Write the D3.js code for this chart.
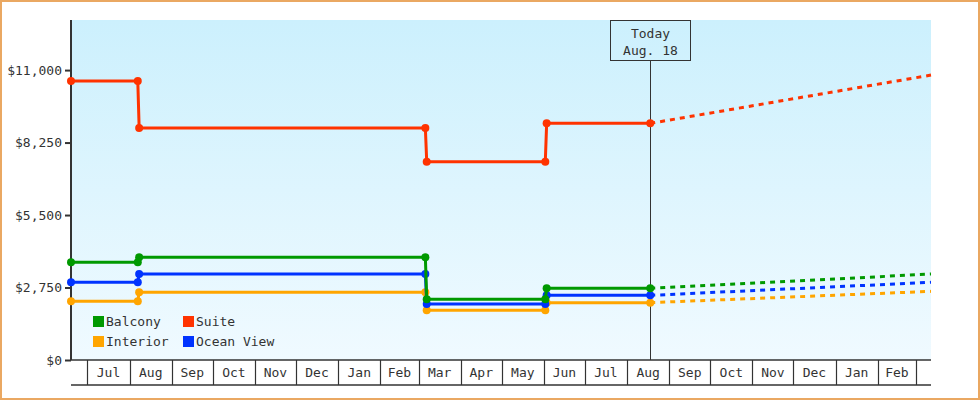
<!DOCTYPE html>
<html lang="en">
<head>
    <meta charset="UTF-8">
    <title>Cabin Price History</title>
    <script src="https://d3js.org/d3.v7.min.js"></script>
    <style>
        body {
            margin: 0;
            background: #fff;
        }

        svg {
            display: block;
            font-family: "DejaVu Sans Mono", monospace;
            font-size: 13px;
        }

        .tick text, .legend text, .month-label, .today-label {
            fill: #333;
        }
    </style>
</head>
<body>
    <svg id="chart" width="980" height="400"></svg>
    <script>
        // Price data
        const pastDates = ["2017-06-19", "2017-08-07", "2017-08-08", "2018-03-06", "2018-03-07", "2018-06-02", "2018-06-03", "2018-08-18"];
        const balcony   = [3706, 3706, 3895, 3895, 2302, 2302, 2719, 2719];
        const suite     = [10583, 10583, 8800, 8800, 7522, 7522, 8978, 8978];
        const oceanView = [2947, 2947, 3262, 3262, 2124, 2124, 2453, 2453];
        const interior  = [2226, 2226, 2567, 2567, 1884, 1884, 2175, 2175];

        // Forecast (dashed)
        const forecastDates     = ["2018-08-18", "2019-03-12"];
        const balconyForecast   = [2719, 3262];
        const suiteForecast     = [8978, 10810];
        const oceanViewForecast = [2453, 2947];
        const interiorForecast  = [2175, 2605];

        const seriesNames = ["Balcony", "Suite", "Interior", "Ocean View"];
        const yTicks = [0, 2750, 5500, 8250, 11000];
        const todayLabel = ["Today", "Aug. 18"];
        const todayDate = "2018-08-18";
        const domainStart = "2017-06-19", domainEnd = "2019-03-12";

        const colors = {
            "Balcony": "#009900",
            "Suite": "#ff3300",
            "Interior": "#ffa500",
            "Ocean View": "#0033ff"
        };

        const parse = d3.timeParse("%Y-%m-%d");

        const svg = d3.select("#chart");
        const plot = { left: 71, right: 931, top: 20, bottom: 360 };

        // outer border
        svg.append("rect")
            .attr("x", 1).attr("y", 1)
            .attr("width", 978).attr("height", 398)
            .attr("fill", "#fff")
            .attr("stroke", "#eaa862")
            .attr("stroke-width", 2);

        // background gradient
        const grad = svg.append("defs").append("linearGradient")
            .attr("id", "bg").attr("x1", 0).attr("x2", 0).attr("y1", 0).attr("y2", 1);
        grad.append("stop").attr("offset", "0%").attr("stop-color", "#ccf0fd");
        grad.append("stop").attr("offset", "100%").attr("stop-color", "#f0faff");

        svg.append("rect")
            .attr("x", plot.left).attr("y", plot.top)
            .attr("width", plot.right - plot.left).attr("height", plot.bottom - plot.top)
            .attr("fill", "url(#bg)");

        // scales
        const x = d3.scaleTime()
            .domain([parse(domainStart), parse(domainEnd)])
            .range([plot.left, plot.right]);

        const y = d3.scaleLinear()
            .domain([0, 12900])
            .range([plot.bottom, plot.top]);

        // y axis
        const yAxis = svg.append("g")
            .attr("transform", `translate(${plot.left},0)`)
            .call(d3.axisLeft(y)
                .tickValues(yTicks)
                .tickSize(6)
                .tickSizeOuter(0)
                .tickPadding(3)
                .tickFormat(d => "$" + d3.format(",")(d)));
        yAxis.select(".domain").remove();
        yAxis.selectAll(".tick line").attr("stroke", "#333").attr("stroke-width", 2);
        yAxis.selectAll(".tick text").attr("font-size", 13).attr("font-family", "DejaVu Sans Mono, monospace");
        svg.append("line")
            .attr("x1", plot.left).attr("x2", plot.left)
            .attr("y1", plot.top).attr("y2", plot.bottom)
            .attr("stroke", "#333").attr("stroke-width", 2);

        // x axis: month cells
        const months = d3.timeMonth.range(d3.timeMonth.ceil(x.domain()[0]), x.domain()[1]);
        const xAxis = svg.append("g");
        xAxis.append("line")
            .attr("x1", plot.left).attr("x2", plot.right)
            .attr("y1", plot.bottom).attr("y2", plot.bottom)
            .attr("stroke", "#333").attr("stroke-width", 1.5);
        xAxis.append("line")
            .attr("x1", plot.left).attr("x2", plot.right)
            .attr("y1", plot.bottom + 25).attr("y2", plot.bottom + 25)
            .attr("stroke", "#333").attr("stroke-width", 1.5);
        xAxis.selectAll(".divider")
            .data(months)
            .enter()
            .append("line")
            .attr("class", "divider")
            .attr("x1", d => Math.round(x(d)) + 0.5)
            .attr("x2", d => Math.round(x(d)) + 0.5)
            .attr("y1", plot.bottom).attr("y2", plot.bottom + 25)
            .attr("stroke", "#333").attr("stroke-width", 1.2);
        const fullMonths = months.filter(d => d3.timeMonth.offset(d, 1) <= x.domain()[1]);
        xAxis.selectAll(".month-label")
            .data(fullMonths)
            .enter()
            .append("text")
            .attr("class", "month-label")
            .attr("x", d => (x(d) + x(d3.timeMonth.offset(d, 1))) / 2)
            .attr("y", plot.bottom + 17)
            .attr("text-anchor", "middle")
            .text(d3.timeFormat("%b"));

        // today marker
        const tx = Math.round(x(parse(todayDate))) + 0.5;
        svg.append("line")
            .attr("x1", tx).attr("x2", tx)
            .attr("y1", 60).attr("y2", plot.bottom)
            .attr("stroke", "#333").attr("stroke-width", 1);
        svg.append("rect")
            .attr("x", tx - 40).attr("y", 20.5)
            .attr("width", 80).attr("height", 40)
            .attr("fill", "none")
            .attr("stroke", "#333").attr("stroke-width", 1);
        svg.selectAll(".today-label")
            .data(todayLabel)
            .enter()
            .append("text")
            .attr("class", "today-label")
            .attr("x", tx)
            .attr("y", (d, i) => 38 + i * 17)
            .attr("text-anchor", "middle")
            .text(d => d);

        // lines
        const line = d3.line()
            .x(d => x(d.date))
            .y(d => y(d.value));

        const series = [
            { name: "Interior", past: interior, forecast: interiorForecast },
            { name: "Ocean View", past: oceanView, forecast: oceanViewForecast },
            { name: "Balcony", past: balcony, forecast: balconyForecast },
            { name: "Suite", past: suite, forecast: suiteForecast }
        ];

        series.forEach(s => {
            const past = pastDates.map((d, i) => ({ date: parse(d), value: s.past[i] }));
            const fc = forecastDates.map((d, i) => ({ date: parse(d), value: s.forecast[i] }));

            svg.append("path")
                .datum(fc)
                .attr("fill", "none")
                .attr("stroke", colors[s.name])
                .attr("stroke-width", 3)
                .attr("stroke-dasharray", "5,5")
                .attr("d", line);

            svg.append("path")
                .datum(past)
                .attr("fill", "none")
                .attr("stroke", colors[s.name])
                .attr("stroke-width", 3)
                .attr("d", line);

            svg.selectAll(null)
                .data(past)
                .enter()
                .append("circle")
                .attr("cx", d => x(d.date))
                .attr("cy", d => y(d.value))
                .attr("r", 4)
                .attr("fill", colors[s.name]);
        });

        // legend
        const legend = svg.append("g").attr("class", "legend");
        legend.selectAll("g")
            .data(seriesNames)
            .enter()
            .append("g")
            .attr("transform", (d, i) => `translate(${93 + (i % 2) * 90},${316 + Math.floor(i / 2) * 20})`)
            .each(function (d) {
                const g = d3.select(this);
                g.append("rect")
                    .attr("width", 11).attr("height", 11)
                    .attr("fill", colors[d]);
                g.append("text")
                    .attr("x", 13)
                    .attr("y", 10)
                    .text(d);
            });
    </script>
</body>
</html>
